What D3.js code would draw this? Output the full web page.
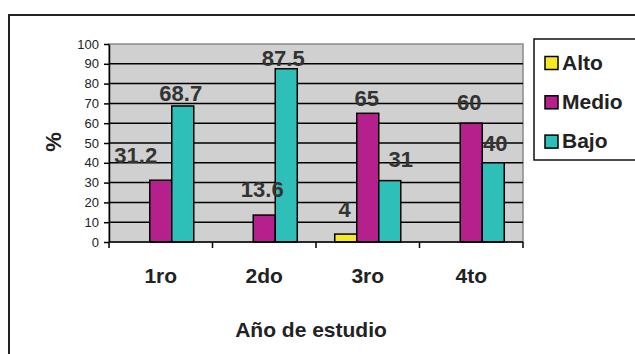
<!DOCTYPE html>
<html>
<head>
<meta charset="utf-8">
<script src="https://cdn.jsdelivr.net/npm/d3@7"></script>
<style>
  body { margin: 0; background: #fff; }
  text { font-family: Arial, "Liberation Sans", sans-serif; }
</style>
</head>
<body>
<script>
// datos
const categories = ['1ro', '2do', '3ro', '4to'];
const series = ['Alto', 'Medio', 'Bajo'];
const alto = [0, 0, 4, 0];
const medio = [31.2, 13.6, 65, 60];
const bajo = [68.7, 87.5, 31, 40];
const yTicks = [0, 10, 20, 30, 40, 50, 60, 70, 80, 90, 100];

const colors = { Alto: '#f8e824', Medio: '#b5208c', Bajo: '#2ec0b8' };

// ajustes de etiquetas (dx, dy relativos a la barra)
const labelNudge = {
  '1ro-Medio': [-25, -17], '1ro-Bajo': [-2, -5],
  '2do-Medio': [-2, -18], '2do-Bajo': [-3, -3],
  '3ro-Alto': [-1, -17], '3ro-Medio': [-1, -7], '3ro-Bajo': [11, -14],
  '4to-Medio': [-2, -13], '4to-Bajo': [2, -12]
};

const width = 635;
const height = 354;
const plot = { left: 109, right: 523, top: 44, bottom: 242 };

const svg = d3.select('body').append('svg')
  .attr('width', width).attr('height', height);

// marco exterior
svg.append('rect')
  .attr('x', 9).attr('y', 15).attr('width', 660).attr('height', 380)
  .attr('fill', '#fff').attr('stroke', '#222').attr('stroke-width', 2);

const x0 = d3.scaleBand().domain(categories).range([plot.left, plot.right]);
const x1 = d3.scaleBand().domain(series)
  .range([x0.bandwidth() * 0.181, x0.bandwidth() * 0.819]);
const y = d3.scaleLinear().domain([0, 100]).range([plot.bottom, plot.top]);

// area de trazado
svg.append('rect')
  .attr('x', plot.left).attr('y', plot.top)
  .attr('width', plot.right - plot.left).attr('height', plot.bottom - plot.top)
  .attr('fill', '#d0d0d0').attr('stroke', '#8a8a8a').attr('stroke-width', 1.5);

// lineas de division
svg.append('g').selectAll('line')
  .data(yTicks.filter(d => d > 0 && d < 100))
  .enter().append('line')
  .attr('x1', plot.left).attr('x2', plot.right)
  .attr('y1', d => y(d)).attr('y2', d => y(d))
  .attr('stroke', '#000').attr('stroke-width', 1.5);

// barras
const table = categories.map((c, i) => ({ cat: c, Alto: alto[i], Medio: medio[i], Bajo: bajo[i] }));

const groups = svg.append('g').selectAll('g')
  .data(table).enter().append('g')
  .attr('transform', d => `translate(${x0(d.cat)},0)`);

groups.selectAll('rect')
  .data(d => series.map(s => ({ cat: d.cat, key: s, value: d[s] })).filter(e => e.value > 0))
  .enter().append('rect')
  .attr('x', d => x1(d.key))
  .attr('y', d => y(d.value))
  .attr('width', x1.bandwidth())
  .attr('height', d => y(0) - y(d.value))
  .attr('fill', d => colors[d.key])
  .attr('stroke', '#000').attr('stroke-width', 1.5);

// etiquetas de datos
groups.selectAll('text')
  .data(d => series.map(s => ({ cat: d.cat, key: s, value: d[s] })).filter(e => e.value > 0))
  .enter().append('text')
  .attr('x', d => x1(d.key) + x1.bandwidth() / 2 + (labelNudge[d.cat + '-' + d.key] || [0, 0])[0])
  .attr('y', d => y(d.value) + (labelNudge[d.cat + '-' + d.key] || [0, -5])[1])
  .attr('text-anchor', 'middle')
  .attr('font-size', '22px').attr('font-weight', 'bold')
  .attr('fill', '#333')
  .text(d => d.value);

// eje Y
const yAxis = svg.append('g')
  .attr('transform', `translate(${plot.left},0)`)
  .call(d3.axisLeft(y).tickValues(yTicks).tickSize(5).tickSizeOuter(0).tickPadding(5));
yAxis.select('.domain').attr('stroke', '#000').attr('stroke-width', 1.5);
yAxis.selectAll('.tick line').attr('stroke', '#000').attr('stroke-width', 1.5);
yAxis.selectAll('.tick text')
  .attr('font-size', '13px').attr('fill', '#222')
  .style('font-family', 'Arial, "Liberation Sans", sans-serif');

// eje X
svg.append('line')
  .attr('x1', plot.left).attr('x2', plot.right)
  .attr('y1', y(0)).attr('y2', y(0))
  .attr('stroke', '#000').attr('stroke-width', 1.5);

const bounds = categories.map(c => x0(c)).concat([x0(categories[categories.length - 1]) + x0.bandwidth()]);
svg.append('g').selectAll('line')
  .data(bounds).enter().append('line')
  .attr('x1', d => d).attr('x2', d => d)
  .attr('y1', y(0)).attr('y2', y(0) + 6)
  .attr('stroke', '#000').attr('stroke-width', 1.5);

svg.append('g').selectAll('text')
  .data(categories).enter().append('text')
  .attr('x', d => x0(d) + x0.bandwidth() / 2)
  .attr('y', 283)
  .attr('text-anchor', 'middle')
  .attr('font-size', '21px').attr('font-weight', 'bold').attr('fill', '#222')
  .text(d => d);

// titulos de ejes
svg.append('text')
  .attr('x', 311).attr('y', 337)
  .attr('text-anchor', 'middle')
  .attr('font-size', '21px').attr('font-weight', 'bold').attr('fill', '#222')
  .text('Año de estudio');

svg.append('text')
  .attr('transform', 'translate(61,142) rotate(-90)')
  .attr('text-anchor', 'middle')
  .attr('font-size', '22px').attr('font-weight', 'bold').attr('fill', '#222')
  .text('%');

// leyenda
const legend = svg.append('g');
legend.append('rect')
  .attr('x', 534).attr('y', 39).attr('width', 120).attr('height', 121)
  .attr('fill', '#fff').attr('stroke', '#111').attr('stroke-width', 1.5);

const items = legend.selectAll('g.item')
  .data(series).enter().append('g')
  .attr('class', 'item')
  .attr('transform', (d, i) => `translate(545,${56.5 + i * 39.3})`);

items.append('rect')
  .attr('width', 13).attr('height', 13)
  .attr('fill', d => colors[d])
  .attr('stroke', '#000').attr('stroke-width', 1.5);

items.append('text')
  .attr('x', 17).attr('y', 13)
  .attr('font-size', '21px').attr('font-weight', 'bold').attr('fill', '#222')
  .text(d => d);
</script>
</body>
</html>
